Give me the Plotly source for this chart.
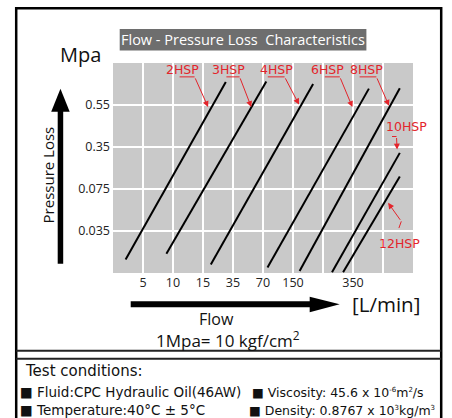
import plotly.graph_objects as go

# ---------------- data (axis units: one grid cell = 1) ----------------
flow_tick_pos = [1, 2, 3, 4, 5, 6, 7, 8, 9]
flow_tick_labels = ["5", "10", "15", "35", "70", "150", "", "350", ""]
loss_tick_pos = [1, 2, 3, 4]
loss_tick_labels = ["0.035", "0.075", "0.35", "0.55"]

series_names = ["2HSP", "3HSP", "4HSP", "6HSP", "8HSP", "10HSP", "12HSP"]
flow_start = [0.42, 1.78, 3.26, 5.15, 6.22, 7.30, 7.67]
flow_end = [3.76, 5.11, 6.67, 8.53, 9.56, 9.56, 9.56]
loss_start = [0.32, 0.46, 0.20, 0.13, 0.05, 0.02, 0.02]
loss_end = [4.55, 4.56, 4.50, 4.39, 4.40, 2.86, 2.30]

# label placement (axis units)
label_x = [2.31, 3.86, 5.46, 7.14, 8.46, 9.79, 9.56]
label_y = [4.84, 4.84, 4.84, 4.84, 4.84, 3.49, 0.71]
lead_x0 = [2.22, 3.78, 5.16, 7.06, 8.22, 9.30, 9.53]
lead_y0 = [4.67, 4.67, 4.67, 4.67, 4.67, 3.25, 1.07]
kink_x = [2.72, 4.22, 5.72, 7.56, 8.78, 9.45, 9.61]
kink_y = [4.67, 4.67, 4.67, 4.67, 4.67, 3.25, 1.23]
tip_x = [3.17, 4.61, 6.20, 7.98, 9.20, 9.47, 9.17]
tip_y = [3.95, 3.95, 4.01, 3.95, 3.98, 2.94, 1.67]

# ---------------- layout geometry ----------------
FW, FH = 452, 418
L, T = 113.3, 63.3
PW, PH = 300.0, 210.0
R = FW - L - PW
B = FH - T - PH


def px(x):
    return (x - L) / PW


def py(y):
    return 1 - (y - T) / PH


RED = "#e3242b"
FONT = "Open Sans"
SUP = "<sup><span style='font-size:7px'>{}</span></sup>"

fig = go.Figure()

for i, name in enumerate(series_names):
    fig.add_trace(go.Scatter(
        x=[flow_start[i], flow_end[i]], y=[loss_start[i], loss_end[i]],
        mode="lines", line=dict(color="black", width=2),
        showlegend=False, hoverinfo="skip", name=name))

annotations = []
for i, name in enumerate(series_names):
    fig.add_trace(go.Scatter(
        x=[lead_x0[i], kink_x[i]], y=[lead_y0[i], kink_y[i]],
        mode="lines", line=dict(color=RED, width=1),
        showlegend=False, hoverinfo="skip"))
    annotations.append(dict(
        x=tip_x[i], y=tip_y[i], ax=kink_x[i], ay=kink_y[i],
        xref="x", yref="y", axref="x", ayref="y", text="",
        showarrow=True, arrowhead=2, arrowsize=1.2, arrowwidth=1,
        arrowcolor=RED, standoff=0, startstandoff=0))
    annotations.append(dict(
        x=label_x[i], y=label_y[i], xref="x", yref="y", text=name,
        showarrow=False, font=dict(family="DejaVu Sans", size=12.5, color=RED)))


def ptext(x, y, text, size, color="#111", xanchor="center", family=FONT, **kw):
    annotations.append(dict(x=px(x), y=py(y), xref="paper", yref="paper",
                            text=text, showarrow=False, xanchor=xanchor,
                            yanchor="middle",
                            font=dict(family=family, size=size, color=color), **kw))


ptext(243.3, 40, "Flow - Pressure Loss  Characteristics", 14.5, color="white")
ptext(80.5, 55, "Mpa", 20)
ptext(48, 175, "Pressure Loss", 15, textangle=-90)
ptext(386, 304, "[L/min]", 20.5)
ptext(217, 319, "Flow", 16)
ptext(228, 340, "1Mpa= 10 kgf/cm<sup>2</sup>", 17)
ptext(23, 371, "Test conditions:", 15, xanchor="left", family="DejaVu Sans")
ptext(19, 392.5, "■ Fluid:CPC Hydraulic Oil(46AW)", 13.5, xanchor="left",
      family="DejaVu Sans", borderpad=0)
ptext(19, 410.5, "■ Temperature:40°C ± 5°C", 13.5, xanchor="left",
      family="DejaVu Sans", borderpad=0)
ptext(251, 392.5, "■ Viscosity: 45.6 x 10" + SUP.format("-6") + "m" + SUP.format("2") + "/s",
      12.5, xanchor="left", family="DejaVu Sans", borderpad=0)
ptext(248, 410.5, "■ Density: 0.8767 x 10" + SUP.format("3") + "kg/m" + SUP.format("3"),
      12.5, xanchor="left", family="DejaVu Sans", borderpad=0)


def prect(x0, y0, x1, y1, fill=None, line=None, lw=0):
    d = dict(type="rect", xref="paper", yref="paper",
             x0=px(x0), x1=px(x1), y0=py(y0), y1=py(y1), layer="above")
    d["fillcolor"] = fill if fill else "rgba(0,0,0,0)"
    d["line"] = dict(color=line if line else "rgba(0,0,0,0)", width=lw)
    return d


def ppath(points, fill):
    s = "M " + " L ".join(f"{px(a):.5f},{py(b):.5f}" for a, b in points) + " Z"
    return dict(type="path", xref="paper", yref="paper", path=s,
                fillcolor=fill, line=dict(color=fill, width=0), layer="above")


shapes = [
    prect(16.5, 8.5, 441.5, 430, line="black", lw=2.5),
    dict(type="line", xref="paper", yref="paper", x0=px(16.5), x1=px(441.5),
         y0=py(351), y1=py(351), line=dict(color="#222", width=2)),
    dict(type="line", xref="paper", yref="paper", x0=px(16.5), x1=px(441.5),
         y0=py(359), y1=py(359), line=dict(color="#222", width=2)),
    prect(120, 29.3, 366.7, 50.7, fill="#6e6e6e"),
    prect(58, 110, 63.5, 264, fill="black"),
    ppath([(51.5, 112), (70, 112), (60.75, 89)], "black"),
    prect(131, 301.5, 312, 307.5, fill="black"),
    ppath([(310, 297), (310, 312.5), (340, 304.5)], "black"),
]

fig.update_layout(
    width=FW, height=FH, autosize=False,
    margin=dict(l=L, r=R, t=T, b=B, pad=0),
    paper_bgcolor="white", plot_bgcolor="#c9c9c9",
    showlegend=False,
    xaxis=dict(range=[0, 10], tickvals=flow_tick_pos, ticktext=flow_tick_labels,
               showgrid=True, gridcolor="white", gridwidth=1.5, zeroline=False,
               showline=False, ticks="", fixedrange=True,
               tickfont=dict(family=FONT, size=12.5, color="#222")),
    yaxis=dict(range=[0, 5], tickvals=loss_tick_pos, ticktext=loss_tick_labels,
               showgrid=True, gridcolor="white", gridwidth=1.5, zeroline=False,
               showline=False, ticks="", fixedrange=True, ticklabelstandoff=2,
               tickfont=dict(family=FONT, size=12.5, color="#222")),
    annotations=annotations, shapes=shapes,
)

fig.write_html("out.html", config={"displayModeBar": False},
               post_script="document.body.style.margin='0';")
